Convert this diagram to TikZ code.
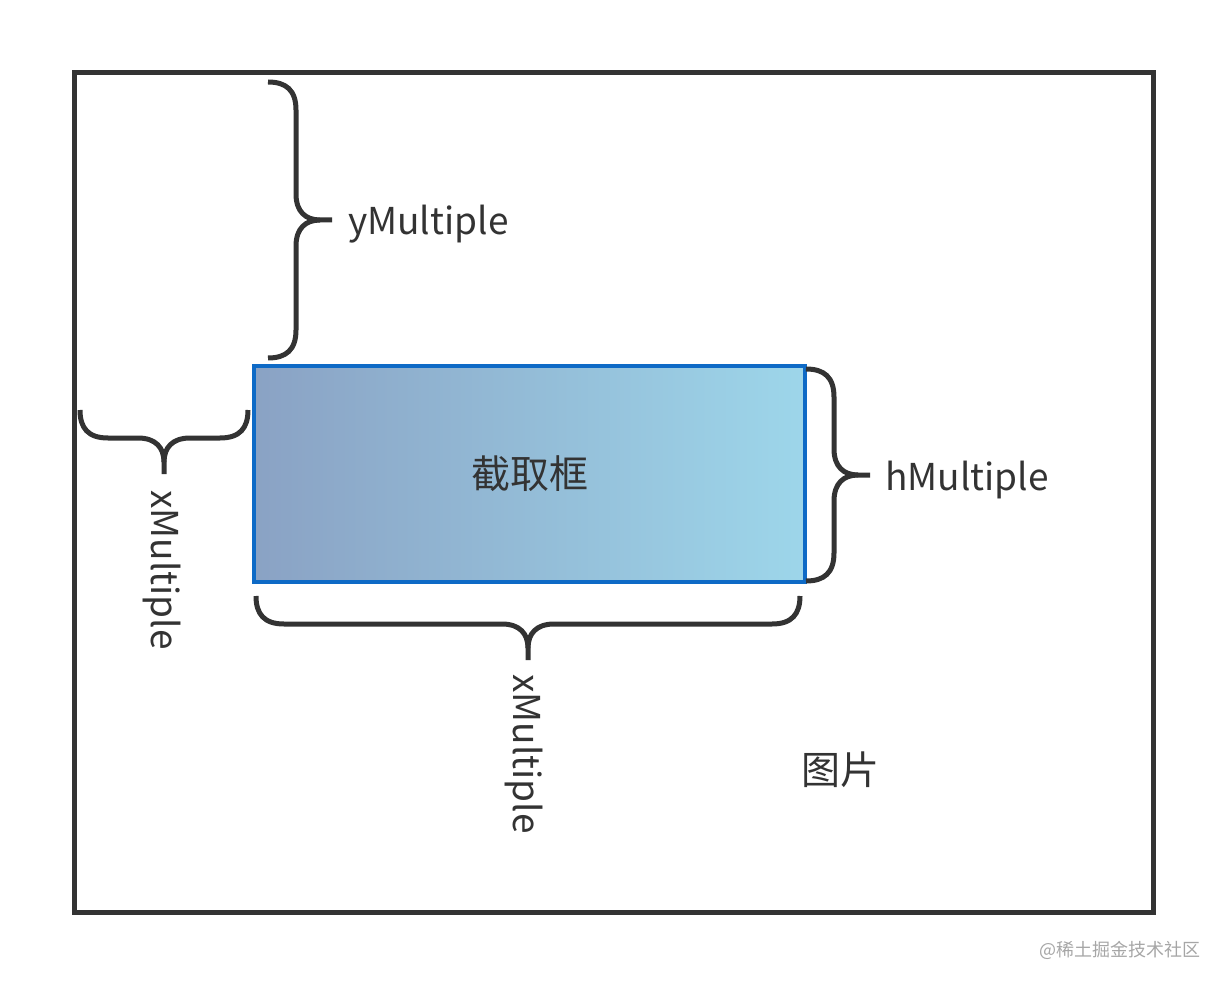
\documentclass[tikz,border=0pt]{standalone}
\usepackage{fontspec}
\setmainfont{Noto Sans CJK SC}
\definecolor{ink}{HTML}{333333}
\definecolor{cropline}{HTML}{0E6AC6}
\definecolor{cropleft}{HTML}{8AA2C4}
\definecolor{cropright}{HTML}{9DD6EA}

\begin{document}
\begin{tikzpicture}[x=1pt,y=-1pt,
    bracestroke/.style={ink,line width=5pt},
    % brace along +y, bulging to +x
    vbrace/.pic={
      \draw[bracestroke] (0,0) .. controls (18,0) and (28,8) .. (28,28)
        -- (28,{#1/2-26}) .. controls (28,{#1/2-8}) and (38,{#1/2}) .. (52,{#1/2}) -- (64,{#1/2});
      \draw[bracestroke] (52,{#1/2}) .. controls (38,{#1/2}) and (28,{#1/2+8}) .. (28,{#1/2+26})
        -- (28,{#1-28}) .. controls (28,{#1-8}) and (18,#1) .. (0,#1);},
    % brace along +x, bulging to +y
    hbrace/.pic={
      \draw[bracestroke] (0,0) .. controls (0,18) and (8,28) .. (28,28)
        -- ({#1/2-26},28) .. controls ({#1/2-8},28) and ({#1/2},38) .. ({#1/2},52) -- ({#1/2},64);
      \draw[bracestroke] ({#1/2},52) .. controls ({#1/2},38) and ({#1/2+8},28) .. ({#1/2+26},28)
        -- ({#1-28},28) .. controls ({#1-8},28) and (#1,18) .. (#1,0);},
    label/.style={text=ink,font=\fontsize{37}{40}\selectfont,inner sep=0pt}]
    \useasboundingbox (0,0) rectangle (1227,987);
    % the picture and the crop box
    \draw[ink,line width=5pt] (74,73) rectangle (1153,912);
    \node[draw=cropline,line width=4pt,left color=cropleft,right color=cropright,
          minimum width=551pt,minimum height=216pt,inner sep=0pt] (crop) at (529.5,474) {};
    \node[label,font=\fontsize{39}{42}\selectfont] (croptext) at (crop.center) {截取框};
    \node[label,font=\fontsize{39}{42}\selectfont] (pic) at (840,770) {图片};
    % braces
    \pic at (268,82) {vbrace=276};
    \node[label,anchor=west] (ymul) at (348,224) {yMultiple};
    \pic at (806,369) {vbrace=212};
    \node[label,anchor=west] (hmul) at (885,480) {hMultiple};
    \pic at (80,410) {hbrace=168};
    \node[label,anchor=west,rotate=-90] (xmul) at (162,490) {xMultiple};
    \pic at (256,596) {hbrace=544};
    \node[label,anchor=west,rotate=-90] (xmulb) at (524,674) {xMultiple};
    % watermark
    \node[text=black!35,font=\fontsize{18}{20}\selectfont,inner sep=0pt] (mark) at (1120,950) {@稀土掘金技术社区};
\end{tikzpicture}
\end{document}
